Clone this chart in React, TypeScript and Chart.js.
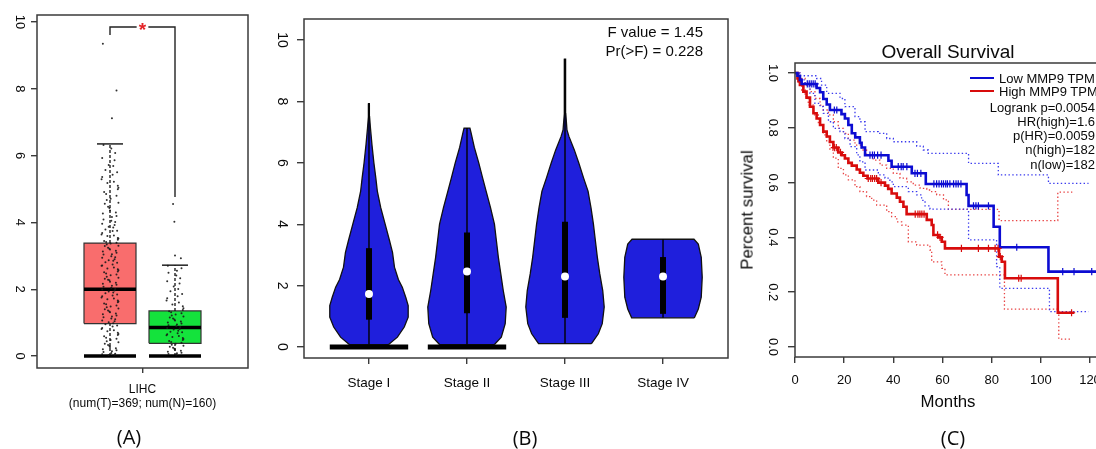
import React, { useEffect, useRef } from 'react';
import { Chart, registerables } from 'chart.js';

Chart.register(...registerables);

const FONT = "'Liberation Sans', Arial, Helvetica, sans-serif";
const PANEL_FONT = "'Open Sans', 'Liberation Sans', sans-serif";
const AXIS = '#3b3b3b';
const INK = '#0a0a0a';

// ---------------- Panel A : box plot ----------------
const panelALabel = ['LIHC', '(num(T)=369; num(N)=160)'];
const boxPositions = [1, 2];
const boxQ1 = [0.97, 0.38];
const boxMedian = [2.0, 0.85];
const boxQ3 = [3.38, 1.35];
const boxWhiskerHigh = [6.35, 2.72];
const boxFill = ['#f96d6d', '#14e33c'];
const panelAYTicks = [0, 2, 4, 6, 8, 10];
const sigBracketY = [9.61, 9.85, 4.76];
const sigStar = '*';
const tumorValues = [
  9.35, 7.95, 7.12,
  6.32, 6.21, 6.08, 5.93, 5.86, 5.72, 5.69, 5.57, 5.5, 5.43, 5.36, 5.29, 5.22, 5.18, 5.1, 5.04, 4.99, 4.91, 4.85, 4.8,
  4.71, 4.67, 4.59, 4.56, 4.47, 4.43, 4.36, 4.3, 4.27, 4.19, 4.16, 4.09, 4.05, 4.01, 3.96, 3.92, 3.87, 3.85, 3.79,
  3.75, 3.74, 3.68, 3.64, 3.61, 3.59, 3.53, 3.52, 3.48, 3.44, 3.41, 3.39,
  3.37, 3.34, 3.3, 3.29, 3.24, 3.21, 3.19, 3.15, 3.13, 3.09, 3.05, 3.04, 2.99, 2.96, 2.94, 2.9, 2.87, 2.85, 2.81,
  2.79, 2.74, 2.71, 2.7, 2.65, 2.62, 2.6, 2.57, 2.53, 2.51, 2.47, 2.44, 2.42, 2.37, 2.34, 2.31, 2.28, 2.27, 2.22,
  2.19, 2.16, 2.13, 2.1, 2.07, 2.04, 2.01,
  1.99, 1.96, 1.93, 1.9, 1.88, 1.84, 1.81, 1.79, 1.75, 1.72, 1.7, 1.66, 1.63, 1.61, 1.57, 1.55, 1.51, 1.48, 1.46,
  1.42, 1.4, 1.36, 1.33, 1.31, 1.27, 1.25, 1.21, 1.18, 1.16, 1.12, 1.1, 1.06, 1.04, 1.01, 0.98,
  0.95, 0.91, 0.88, 0.84, 0.81, 0.77, 0.74, 0.7, 0.66, 0.63, 0.59, 0.55, 0.52, 0.48, 0.44, 0.41, 0.37, 0.33, 0.3,
  0.27, 0.23, 0.2, 0.17, 0.14, 0.12, 0.09, 0.07, 0.05, 0.04, 0.03,
];
const normalValues = [
  4.55, 4.02, 3.01, 2.93,
  2.7, 2.63, 2.55, 2.49, 2.41, 2.33, 2.24, 2.17, 2.08, 2.01, 1.94, 1.86, 1.79, 1.73, 1.66, 1.6, 1.54, 1.49, 1.43, 1.38,
  1.34, 1.31, 1.28, 1.24, 1.21, 1.18, 1.15, 1.12, 1.09, 1.06, 1.03, 1.0, 0.97, 0.94, 0.92, 0.89, 0.87,
  0.84, 0.81, 0.79, 0.76, 0.73, 0.71, 0.68, 0.65, 0.62, 0.6, 0.57, 0.54, 0.51, 0.48, 0.45, 0.42, 0.4,
  0.37, 0.34, 0.31, 0.28, 0.25, 0.22, 0.19, 0.16, 0.13, 0.1, 0.08, 0.06, 0.04,
];
const jitterOffsets = [
  -0.11, 0.05, 0.13, -0.03, 0.08, -0.13, 0.01, 0.1, -0.07, 0.12, -0.01, -0.12, 0.06, -0.05, 0.03, 0.11,
  -0.09, 0.0, 0.07, -0.04, 0.13, -0.1, 0.04, -0.06, 0.09, -0.02, 0.12, -0.08, 0.02, -0.12, 0.1,
];

// ---------------- Panel B : violin plot ----------------
const stageLabels = ['Stage I', 'Stage II', 'Stage III', 'Stage IV'];
const stagePositions = [1, 2, 3, 4];
const stageQ1 = [0.89, 1.1, 0.95, 1.08];
const stageMedian = [1.73, 2.46, 2.3, 2.3];
const stageQ3 = [3.22, 3.73, 4.08, 2.93];
const stageMin = [0.08, 0.08, 0.11, 0.95];
const stageMax = [7.93, 7.13, 9.38, 3.51];
const stageZeroBar = [true, true, false, false];
const panelBYTicks = [0, 2, 4, 6, 8, 10];
const anovaText = ['F value = 1.45', 'Pr(>F) = 0.228'];
const stage1Levels = [0.08, 0.32, 0.65, 0.97, 1.35, 1.62, 1.95, 2.2, 2.6, 3.08, 3.46, 4.0, 4.54, 5.08, 5.5, 6.0, 6.6, 7.13, 7.5, 7.93];
const stage1Widths = [0.2, 0.29, 0.36, 0.4, 0.4, 0.375, 0.34, 0.3, 0.26, 0.24, 0.21, 0.165, 0.12, 0.085, 0.07, 0.05, 0.03, 0.015, 0.006, 0.004];
const stage2Levels = [0.08, 0.32, 0.76, 1.3, 1.84, 2.38, 2.92, 3.46, 4.0, 4.54, 5.08, 5.5, 6.0, 6.5, 7.0, 7.13];
const stage2Widths = [0.28, 0.35, 0.39, 0.4, 0.37, 0.345, 0.32, 0.3, 0.28, 0.24, 0.195, 0.16, 0.12, 0.075, 0.04, 0.03];
const stage3Levels = [0.11, 0.43, 0.76, 1.3, 1.84, 2.38, 2.92, 3.46, 4.0, 4.54, 5.08, 5.5, 6.0, 6.42, 6.86, 7.07, 7.6, 8.4, 9.38];
const stage3Widths = [0.27, 0.34, 0.38, 0.4, 0.385, 0.355, 0.33, 0.31, 0.29, 0.265, 0.235, 0.19, 0.14, 0.095, 0.04, 0.02, 0.008, 0.006, 0.006];
const stage4Levels = [0.95, 1.24, 1.62, 2.27, 2.92, 3.35, 3.51];
const stage4Widths = [0.32, 0.36, 0.39, 0.4, 0.39, 0.36, 0.316];

// ---------------- Panel C : Kaplan-Meier ----------------
const survivalTitle = 'Overall Survival';
const survivalXTitle = 'Months';
const survivalYTitle = 'Percent survival';
const legendLabels = ['Low MMP9 TPM', 'High MMP9 TPM'];
const survivalStats = ['Logrank p=0.0054', 'HR(high)=1.6', 'p(HR)=0.0059', 'n(high)=182', 'n(low)=182'];
const monthTicks = [0, 20, 40, 60, 80, 100, 120];
const survTicks = [0, 0.2, 0.4, 0.6, 0.8, 1.0];

const lowTimes = [0, 1.0, 2.0, 2.7, 8.8, 10.2, 11.5, 12.9, 14.2, 18.9, 20.3, 21.7, 23.1, 24.5, 26.4, 27.1, 28.5, 38.0, 39.3, 47.5, 53.2, 69.8, 70.6, 80.8, 83.3, 103.1, 122.5];
const lowSurv = [1.0, 0.99, 0.975, 0.96, 0.945, 0.93, 0.905, 0.885, 0.865, 0.85, 0.834, 0.81, 0.78, 0.765, 0.745, 0.728, 0.7, 0.68, 0.658, 0.634, 0.595, 0.555, 0.515, 0.439, 0.364, 0.275, 0.275];
const lowCensor = [5.0, 5.8, 6.6, 7.4, 8.2, 16.0, 17.0, 30.5, 31.5, 32.3, 33.6, 35.0, 42.0, 43.2, 44.0, 45.5, 48.8, 49.8, 51.2,
  56.5, 57.6, 58.6, 59.6, 60.4, 61.3, 62.0, 63.0, 64.5, 65.5, 66.4, 67.5, 72.6, 73.6, 74.6, 78.7, 90.2, 108.9, 113.5, 120.7];
const lowUpperTimes = [0, 2.0, 8.8, 10.8, 12.9, 18.3, 20.3, 24.4, 26.4, 28.5, 33.9, 37.3, 40.0, 49.5, 52.2, 54.2, 70.6, 82.7, 103.1, 119.4];
const lowUpperSurv = [1.0, 0.99, 0.98, 0.956, 0.926, 0.907, 0.877, 0.841, 0.822, 0.786, 0.78, 0.761, 0.749, 0.733, 0.719, 0.707, 0.67, 0.628, 0.597, 0.597];
const lowLowerTimes = [0, 1.5, 4.1, 6.1, 8.1, 10.2, 11.5, 13.6, 15.6, 18.3, 20.3, 22.4, 25.1, 26.4, 28.5, 33.9, 36.6, 38.6, 40.0, 46.1, 49.5, 51.5, 52.9, 54.9, 70.6, 82.0, 83.3, 103.5, 119.4];
const lowLowerSurv = [1.0, 0.975, 0.962, 0.926, 0.889, 0.877, 0.853, 0.822, 0.798, 0.786, 0.761, 0.731, 0.701, 0.676, 0.646, 0.628, 0.616, 0.603, 0.585, 0.567, 0.555, 0.535, 0.515, 0.503, 0.391, 0.293, 0.214, 0.129, 0.129];

const highTimes = [0, 1.0, 1.4, 2.0, 3.4, 4.7, 6.1, 7.5, 8.8, 10.2, 11.5, 12.9, 14.2, 15.6, 17.6, 19.0, 20.3, 21.7, 23.1, 25.1, 26.4, 27.8, 29.5, 33.9, 36.6, 37.9, 39.3, 41.4, 42.7, 44.1, 45.4, 53.6, 55.6, 56.3, 58.3, 59.7, 61.0, 83.0, 84.1, 85.4, 106.9, 113.6];
const highSurv = [1.0, 0.98, 0.97, 0.956, 0.932, 0.91, 0.877, 0.853, 0.834, 0.81, 0.786, 0.768, 0.748, 0.728, 0.71, 0.7, 0.688, 0.672, 0.662, 0.648, 0.636, 0.625, 0.615, 0.6, 0.589, 0.577, 0.56, 0.545, 0.53, 0.512, 0.485, 0.464, 0.445, 0.409, 0.4, 0.384, 0.36, 0.33, 0.311, 0.251, 0.125, 0.125];
const highCensor = [16.0, 16.8, 18.5, 29.8, 30.8, 31.5, 32.4, 33.2, 35.0, 48.9, 50.0, 50.8, 51.6, 52.5, 58.0, 59.0, 67.7, 74.6, 78.7, 81.4, 82.6, 83.5, 91.0, 92.0, 112.5];
const highUpperTimes = [0, 2.0, 4.1, 6.1, 8.1, 10.2, 11.5, 13.6, 15.6, 17.6, 19.7, 21.7, 24.4, 27.1, 29.1, 31.8, 34.6, 37.3, 40.0, 42.7, 45.4, 48.1, 50.9, 53.6, 55.6, 57.6, 60.4, 62.4, 83.0, 106.9, 112.8];
const highUpperSurv = [1.0, 0.98, 0.956, 0.932, 0.907, 0.883, 0.865, 0.847, 0.822, 0.798, 0.78, 0.755, 0.737, 0.719, 0.701, 0.682, 0.664, 0.652, 0.634, 0.616, 0.603, 0.591, 0.579, 0.573, 0.567, 0.555, 0.537, 0.502, 0.461, 0.565, 0.565];
const highLowerTimes = [0, 1.4, 2.7, 4.1, 5.4, 7.5, 9.5, 11.5, 12.9, 14.2, 15.6, 17.6, 19.7, 21.7, 24.4, 26.4, 29.1, 31.2, 33.2, 37.3, 39.3, 41.4, 43.4, 46.1, 49.5, 54.9, 55.6, 59.7, 61.0, 85.2, 107.3, 112.8];
const highLowerSurv = [1.0, 0.968, 0.938, 0.913, 0.883, 0.847, 0.81, 0.774, 0.749, 0.719, 0.689, 0.652, 0.628, 0.61, 0.585, 0.567, 0.549, 0.536, 0.518, 0.494, 0.476, 0.457, 0.445, 0.384, 0.372, 0.354, 0.311, 0.287, 0.263, 0.138, 0.029, 0.029];

const LOW_COLOR = '#0c0cd2';
const HIGH_COLOR = '#d80c0c';

// ---------------- helpers ----------------
type XY = { x: number; y: number };

function seg(points: XY[], color: string, width: number, order: number, extra: any = {}) {
  return {
    type: 'scatter', data: points, showLine: true, borderColor: color, borderWidth: width,
    pointRadius: 0, pointHoverRadius: 0, fill: false, tension: 0, order, ...extra,
  };
}
function poly(points: XY[], fillColor: string, border: string, width: number, order: number) {
  return seg(points, border, width, order, { fill: 'shape', backgroundColor: fillColor });
}
function zip(xs: number[], ys: number[]): XY[] {
  return xs.map((x, i) => ({ x, y: ys[i] }));
}
function stepAt(ts: number[], ss: number[], t: number) {
  let v = ss[0];
  for (let i = 0; i < ts.length; i++) if (ts[i] <= t) v = ss[i];
  return v;
}
function violinOutline(c: number, levels: number[], widths: number[]): XY[] {
  const right = levels.map((y, i) => ({ x: c + widths[i], y }));
  const left = levels.map((y, i) => ({ x: c - widths[i], y })).reverse();
  return [...right, ...left, right[0]];
}

function yScale(min: number, max: number, ticks: number[], width: number, size: number, pad: number, tl: number, fmt: (v: number) => string) {
  return {
    type: 'linear', position: 'left', min, max,
    afterBuildTicks: (s: any) => { s.ticks = ticks.map((v) => ({ value: v })); },
    afterFit: (s: any) => { s.width = width; },
    border: { display: false },
    grid: { drawOnChartArea: false, drawTicks: true, tickLength: tl, color: AXIS, lineWidth: 1.4 },
    ticks: {
      autoSkip: false, minRotation: -90, maxRotation: -90, crossAlign: 'center', padding: pad,
      color: INK, font: { family: FONT, size }, callback: (v: number) => fmt(v),
    },
  };
}
function xScale(min: number, max: number, ticks: number[], height: number, size: number, pad: number, tl: number, fmt: (v: number, i: number) => any, lineHeight = 1.2) {
  return {
    type: 'linear', position: 'bottom', min, max,
    afterBuildTicks: (s: any) => { s.ticks = ticks.map((v) => ({ value: v })); },
    afterFit: (s: any) => { s.height = height; },
    border: { display: false },
    grid: { drawOnChartArea: false, drawTicks: true, tickLength: tl, color: AXIS, lineWidth: 1.4 },
    ticks: {
      autoSkip: false, minRotation: 0, maxRotation: 0, padding: pad,
      color: INK, font: { family: FONT, size, lineHeight }, callback: (v: number, i: number) => fmt(v, i),
    },
  };
}

const framePlugin = {
  id: 'frame',
  afterDatasetsDraw(chart: any) {
    const { ctx, chartArea: a } = chart;
    ctx.save();
    ctx.strokeStyle = AXIS;
    ctx.lineWidth = 1.5;
    ctx.strokeRect(a.left, a.top, a.right - a.left, a.bottom - a.top);
    ctx.restore();
  },
};

function baseConfig(scales: any, datasets: any[], plugins: any[], padding: any) {
  return {
    type: 'scatter',
    data: { datasets },
    options: {
      responsive: false, animation: false, devicePixelRatio: 1, events: [],
      layout: { padding },
      plugins: { legend: { display: false }, tooltip: { enabled: false }, title: { display: false } },
      scales,
    },
    plugins: [framePlugin, ...plugins],
  };
}

// ---------------- configs ----------------
function makePanelA() {
  const ds: any[] = [];
  const groups = [tumorValues, normalValues];
  groups.forEach((vals, g) => {
    const p = boxPositions[g];
    ds.push({
      type: 'scatter', order: 0,
      data: vals.map((v, i) => ({ x: p + jitterOffsets[(i * 7 + g * 3) % jitterOffsets.length], y: v })),
      pointRadius: 1.0, pointBorderWidth: 0, pointBackgroundColor: 'rgba(25,25,25,0.9)',
    });
    ds.push(poly([
      { x: p - 0.4, y: boxQ1[g] }, { x: p + 0.4, y: boxQ1[g] }, { x: p + 0.4, y: boxQ3[g] },
      { x: p - 0.4, y: boxQ3[g] }, { x: p - 0.4, y: boxQ1[g] },
    ], boxFill[g], '#333', 1.2, 5));
    ds.push(seg([{ x: p - 0.4, y: boxMedian[g] }, { x: p + 0.4, y: boxMedian[g] }], '#000', 3.5, 1));
    ds.push(seg([{ x: p, y: boxQ3[g] }, { x: p, y: boxWhiskerHigh[g] }], '#111', 1.3, 2, { borderDash: [3, 2] }));
    ds.push(seg([{ x: p, y: 0 }, { x: p, y: boxQ1[g] }], '#111', 1.3, 2, { borderDash: [3, 2] }));
    ds.push(seg([{ x: p - 0.2, y: boxWhiskerHigh[g] }, { x: p + 0.2, y: boxWhiskerHigh[g] }], '#111', 1.4, 2));
    ds.push(seg([{ x: p - 0.4, y: 0 }, { x: p + 0.4, y: 0 }], '#000', 3.5, 1));
  });
  const [l, r] = boxPositions;
  ds.push(seg([{ x: l, y: sigBracketY[0] }, { x: l, y: sigBracketY[1] }, { x: l + 0.41, y: sigBracketY[1] }], '#222', 1.4, 2));
  ds.push(seg([{ x: r - 0.41, y: sigBracketY[1] }, { x: r, y: sigBracketY[1] }, { x: r, y: sigBracketY[2] }], '#222', 1.4, 2));

  const starPlugin = {
    id: 'star',
    afterDatasetsDraw(chart: any) {
      const { ctx, scales } = chart;
      const x = scales.x.getPixelForValue((l + r) / 2);
      const y = scales.y.getPixelForValue(sigBracketY[1]);
      ctx.save();
      ctx.fillStyle = '#e5262a';
      ctx.font = `bold 19px ${FONT}`;
      ctx.textAlign = 'center';
      ctx.textBaseline = 'middle';
      ctx.fillText(sigStar, x, y + 4);
      ctx.restore();
    },
  };

  return baseConfig({
    x: xScale(-0.123, 3.123, [1.5], 81, 12, 10.4, 5, () => panelALabel, 1.1),
    y: yScale(-0.359, 10.21, panelAYTicks, 37, 13, 4, 6, (v) => String(v)),
  }, ds, [starPlugin], { left: 0, top: 15, right: 4, bottom: 0 });
}

function makePanelB() {
  const ds: any[] = [];
  const levels = [stage1Levels, stage2Levels, stage3Levels, stage4Levels];
  const widths = [stage1Widths, stage2Widths, stage3Widths, stage4Widths];
  stagePositions.forEach((c, i) => {
    ds.push(poly(violinOutline(c, levels[i], widths[i]), '#1f1fdc', '#111', 1.3, 6));
    ds.push(seg([{ x: c, y: stageMin[i] }, { x: c, y: stageMax[i] }], '#000', 1.4, 4));
    ds.push(seg([{ x: c, y: stageQ1[i] }, { x: c, y: stageQ3[i] }], '#000', 6, 3));
    if (stageZeroBar[i]) ds.push(seg([{ x: c - 0.4, y: 0 }, { x: c + 0.4, y: 0 }], '#000', 5, 2));
    ds.push({
      type: 'scatter', order: 1, data: [{ x: c, y: stageMedian[i] }],
      pointRadius: 4, pointBorderWidth: 0, pointBackgroundColor: '#ffffff',
    });
  });
  return baseConfig({
    x: xScale(0.337, 4.663, stagePositions, 91, 13.5, 11, 6, (_v, i) => stageLabels[i]),
    y: yScale(-0.358, 10.684, panelBYTicks, 52, 14, 7.7, 7, (v) => String(v)),
  }, ds, [], { left: 0, top: 19, right: 6, bottom: 0 });
}

function makePanelC() {
  const dotted = { borderDash: [1.4, 2.4], stepped: 'before' };
  const ds: any[] = [
    seg(zip(lowTimes, lowSurv), LOW_COLOR, 2.6, 1, { stepped: 'before' }),
    seg(zip(highTimes, highSurv), HIGH_COLOR, 2.6, 1, { stepped: 'before' }),
    seg(zip(lowUpperTimes, lowUpperSurv), '#3a3aee', 1.3, 3, dotted),
    seg(zip(lowLowerTimes, lowLowerSurv), '#3a3aee', 1.3, 3, dotted),
    seg(zip(highUpperTimes, highUpperSurv), '#e84242', 1.3, 3, dotted),
    seg(zip(highLowerTimes, highLowerSurv), '#e84242', 1.3, 3, dotted),
    {
      type: 'scatter', order: 0, data: lowCensor.map((t) => ({ x: t, y: stepAt(lowTimes, lowSurv, t) })),
      pointStyle: 'cross', pointRadius: 3.6, pointBorderWidth: 1.2, pointBorderColor: LOW_COLOR,
    },
    {
      type: 'scatter', order: 0, data: highCensor.map((t) => ({ x: t, y: stepAt(highTimes, highSurv, t) })),
      pointStyle: 'cross', pointRadius: 3.6, pointBorderWidth: 1.2, pointBorderColor: HIGH_COLOR,
    },
  ];
  return baseConfig({
    x: xScale(0, 126.1, monthTicks, 92, 13, 9.2, 6, (v) => String(v)),
    y: yScale(-0.0365, 1.0365, survTicks, 61, 13, 6, 7, (v) => v.toFixed(1)),
  }, ds, [], { left: 0, top: 63, right: 45, bottom: 0 });
}

// ---------------- components ----------------
function ChartCanvas({ left, width, make }: { left: number; width: number; make: () => any }) {
  const ref = useRef<HTMLCanvasElement>(null);
  useEffect(() => {
    const chart = new Chart(ref.current as HTMLCanvasElement, make() as any);
    return () => chart.destroy();
  }, []);
  return (
    <canvas
      ref={ref}
      width={width}
      height={449}
      style={{ position: 'absolute', left, top: 0, width, height: 449 }}
    />
  );
}

function Txt(props: { x: number; y: number; text: string; size: number; align?: 'left' | 'center' | 'right'; rotate?: number; family?: string; color?: string }) {
  const { x, y, text, size, align = 'center', rotate = 0, family = FONT, color = INK } = props;
  const tx = align === 'center' ? '-50%' : align === 'right' ? '-100%' : '0%';
  return (
    <div
      style={{
        position: 'absolute', left: x, top: y, whiteSpace: 'nowrap', lineHeight: 1,
        fontFamily: family, fontSize: size, color,
        transform: `translate(${tx}, -50%) rotate(${rotate}deg)`,
      }}
    >
      {text}
    </div>
  );
}

export default function App() {
  return (
    <div style={{ position: 'fixed', left: 0, top: 0, width: 1096, height: 449, overflow: 'hidden', background: '#fff' }}>
      <ChartCanvas left={0} width={252} make={makePanelA} />
      <ChartCanvas left={252} width={482} make={makePanelB} />
      <ChartCanvas left={734} width={416} make={makePanelC} />

      <Txt x={129} y={437} text="(A)" size={20} family={PANEL_FONT} />
      <Txt x={525} y={438} text="(B)" size={20} family={PANEL_FONT} />
      <Txt x={953} y={438} text="(C)" size={20} family={PANEL_FONT} />

      <Txt x={703} y={31} text={anovaText[0]} size={15} align="right" />
      <Txt x={703} y={50} text={anovaText[1]} size={15} align="right" />

      <Txt x={948} y={51} text={survivalTitle} size={19} />
      <Txt x={948} y={402} text={survivalXTitle} size={16.8} />
      <Txt x={748} y={210} text={survivalYTitle} size={16.8} rotate={-90} />

      <div style={{ position: 'absolute', left: 970, top: 77, width: 24, height: 2, background: LOW_COLOR }} />
      <div style={{ position: 'absolute', left: 970, top: 90, width: 24, height: 2, background: HIGH_COLOR }} />
      <Txt x={999} y={78} text={legendLabels[0]} size={13} align="left" />
      <Txt x={999} y={91} text={legendLabels[1]} size={13} align="left" />
      {survivalStats.map((s, i) => (
        <Txt key={s} x={1095} y={106.5 + i * 14.3} text={s} size={13} align="right" />
      ))}
    </div>
  );
}
